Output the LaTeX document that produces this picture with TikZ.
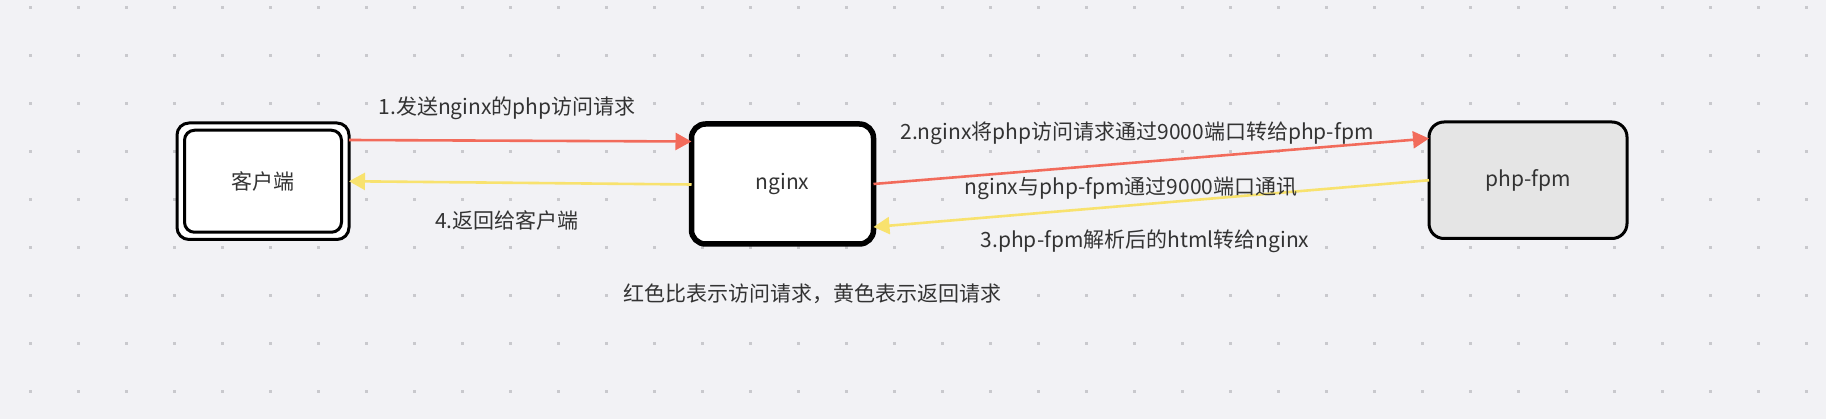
\documentclass[tikz,border=0pt]{standalone}
\usepackage{fontspec}
\setmainfont{Noto Sans CJK SC}
\usetikzlibrary{arrows.meta}
\definecolor{bgc}{HTML}{F2F2F5}
\definecolor{dotc}{HTML}{C9C9CD}
\definecolor{txtc}{HTML}{333333}
\definecolor{redc}{HTML}{F26B5B}
\definecolor{yelc}{HTML}{F8E26E}
\definecolor{grayfill}{HTML}{E5E5E5}
\pgfdeclarelayer{bglayer}
\pgfdeclarelayer{midlayer}
\pgfsetlayers{bglayer,midlayer,main}
\tikzset{
  box/.style={draw=black, fill=white, rectangle, inner sep=0pt, outer sep=0pt, text=txtc,
    font=\fontsize{21pt}{25pt}\selectfont},
  lbl/.style={inner sep=1pt, text=txtc, font=\fontsize{21pt}{25pt}\selectfont},
  redarrow/.style={draw=redc, line width=2.6pt, -{Triangle[length=16pt,width=17pt]}},
  yelarrow/.style={draw=yelc, line width=2.6pt, -{Triangle[length=16pt,width=17pt]}},
}
\begin{document}
\begin{tikzpicture}[x=1pt,y=-1pt]
\useasboundingbox (0,0) rectangle (1826,419);
\begin{pgfonlayer}{bglayer}
\fill[bgc] (0,0) rectangle (1826,419);
\foreach \i in {0,...,37} {
  \foreach \j in {0,...,8} {
    \fill[dotc] ({30+48*\i-1.5},{8+48*\j-1.5}) rectangle ++(3,3);
  }
}
\end{pgfonlayer}
% nodes
\node[box, line width=3pt, rounded corners=12pt, minimum width=172pt, minimum height=116.5pt] (client) at (263,181.25) {};
\node[box, line width=3pt, rounded corners=10pt, minimum width=157pt, minimum height=102pt] (clientin) at (263,181.25) {客户端};
\node[box, line width=5.5pt, rounded corners=14pt, minimum width=182pt, minimum height=120pt] (nginx) at (782.5,184) {nginx};
\node[box, line width=3pt, rounded corners=15pt, fill=grayfill, minimum width=198pt, minimum height=116.5pt] (php) at (1528,180.25) {php-fpm};
% connectors
\draw[redarrow] ([yshift=41.25pt]client.east) -- ([yshift=42.5pt]nginx.west);
\draw[yelarrow] ([yshift=-0.5pt]nginx.west) -- (client.east);
\draw[redarrow] (nginx.east) -- ([yshift=41.75pt]php.west);
\draw[yelarrow] (php.west) -- ([yshift=-43pt]nginx.east);
% labels
\node[lbl] (l1) at (507,108) {1.发送nginx的php访问请求};
\node[lbl] (l4) at (507,220) {4.返回给客户端};
\node[lbl] (l2) at (1137,133) {2.nginx将php访问请求通过9000端口转给php-fpm};
\node[lbl] (lm) at (1131,188) {nginx与php-fpm通过9000端口通讯};
\node[lbl] (l3) at (1145,241.5) {3.php-fpm解析后的html转给nginx};
\node[lbl] (lb) at (812,294) {红色比表示访问请求，黄色表示返回请求};
\begin{pgfonlayer}{midlayer}
\foreach \n in {l1,l4,l2,lm,l3,lb} {
  \fill[bgc] (\n.south west) rectangle (\n.north east);
}
\end{pgfonlayer}
\end{tikzpicture}
\end{document}
